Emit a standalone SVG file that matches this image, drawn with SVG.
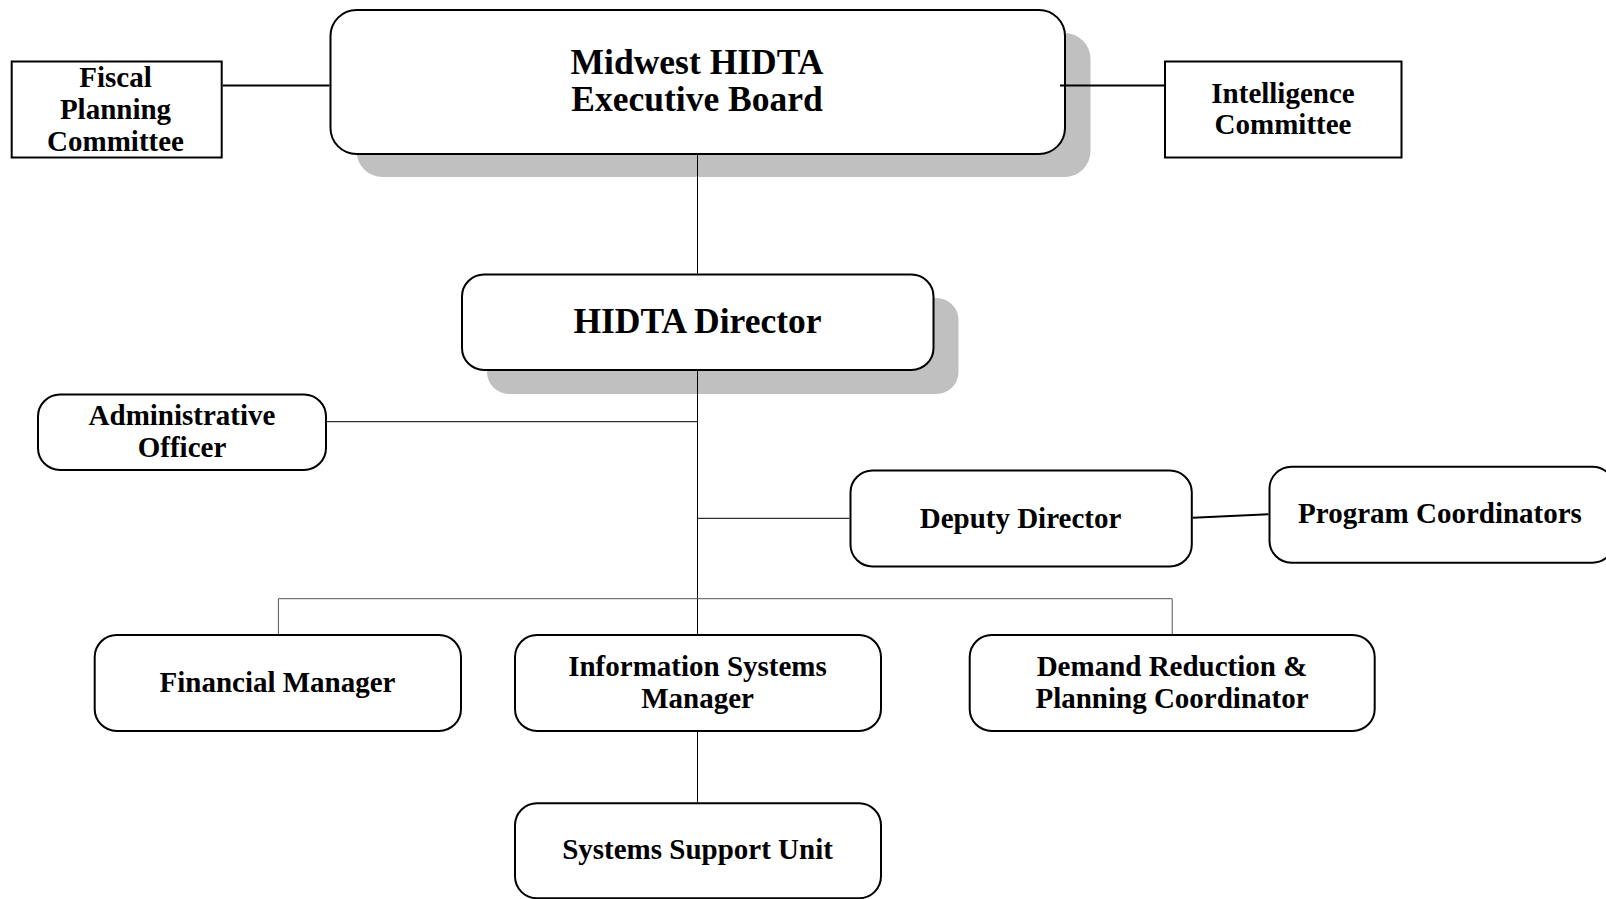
<svg xmlns="http://www.w3.org/2000/svg" width="1606" height="899" viewBox="0 0 1606 899">
<style>
.box{fill:#fff;stroke:#000;stroke-width:2}
.shadow{fill:#c0c0c0;stroke:none}
.t{font-family:"Liberation Serif","Times New Roman",serif;font-weight:bold;font-size:29px;fill:#000;text-anchor:middle}
.big{font-size:35.5px}
.ln{stroke:#000;stroke-width:1;fill:none}
.thick{stroke:#000;stroke-width:2;fill:none}
.gray{stroke:#555;stroke-width:1;fill:none}
</style>
<rect width="1606" height="899" fill="#fff"/>
<g id="exec-board">
<rect class="shadow" x="356.5" y="33" width="734" height="144" rx="26"/>
<rect class="box" x="330.5" y="10" width="734.5" height="144" rx="26"/>
<text class="t big" x="697" y="73.5">Midwest HIDTA</text>
<text class="t big" x="697" y="111">Executive Board</text>
</g>
<g id="fiscal">
<rect class="box" x="11.7" y="61.5" width="210" height="96"/>
<text class="t" x="115.5" y="87">Fiscal</text>
<text class="t" x="115.5" y="119">Planning</text>
<text class="t" x="115.5" y="150.5">Committee</text>
</g>
<g id="intelligence">
<rect class="box" x="1165" y="61.5" width="236.5" height="96"/>
<text class="t" x="1283" y="102.5">Intelligence</text>
<text class="t" x="1283" y="134">Committee</text>
</g>
<g id="director">
<rect class="shadow" x="487" y="298" width="471.5" height="96" rx="22"/>
<rect class="box" x="462" y="274.5" width="471.5" height="95.5" rx="22"/>
<text class="t big" x="697.5" y="333">HIDTA Director</text>
</g>
<g id="admin">
<rect class="box" x="38" y="394.5" width="288" height="75.5" rx="22"/>
<text class="t" x="182" y="425">Administrative</text>
<text class="t" x="182" y="457">Officer</text>
</g>
<g id="deputy">
<rect class="box" x="850.5" y="470.5" width="341.3" height="96" rx="22"/>
<text class="t" x="1020.5" y="527.5">Deputy Director</text>
</g>
<g id="program">
<rect class="box" x="1269.5" y="466.7" width="345" height="96" rx="22"/>
<text class="t" x="1440" y="522.5">Program Coordinators</text>
</g>
<g id="financial">
<rect class="box" x="94.7" y="635" width="366.3" height="96" rx="22"/>
<text class="t" x="277.5" y="691.5">Financial Manager</text>
</g>
<g id="ism">
<rect class="box" x="515" y="635" width="366" height="96" rx="22"/>
<text class="t" x="697.5" y="676">Information Systems</text>
<text class="t" x="697.5" y="707.5">Manager</text>
</g>
<g id="demand">
<rect class="box" x="969.7" y="635" width="405" height="96" rx="22"/>
<text class="t" x="1172" y="676">Demand Reduction &amp;</text>
<text class="t" x="1172" y="707.5">Planning Coordinator</text>
</g>
<g id="ssu">
<rect class="box" x="515" y="803.3" width="366" height="95" rx="22"/>
<text class="t" x="697.5" y="859">Systems Support Unit</text>
</g>
<g id="connectors">
<line class="thick" x1="222.7" y1="85.5" x2="329.5" y2="85.5"/>
<line class="thick" x1="1060" y1="85.5" x2="1164" y2="85.5"/>
<line class="ln" x1="697.5" y1="155" x2="697.5" y2="273.5"/>
<line class="ln" x1="697.5" y1="371" x2="697.5" y2="634"/>
<line class="ln" x1="327" y1="421.7" x2="697.5" y2="421.7"/>
<line class="ln" x1="697.5" y1="518.3" x2="849.5" y2="518.3"/>
<line class="thick" x1="1192.8" y1="517.7" x2="1268.5" y2="514.3"/>
<polyline class="gray" points="278.4,634 278.4,598.7 1172.2,598.7 1172.2,634"/>
<line class="ln" x1="697.5" y1="732" x2="697.5" y2="802.3"/>
</g>
</svg>
